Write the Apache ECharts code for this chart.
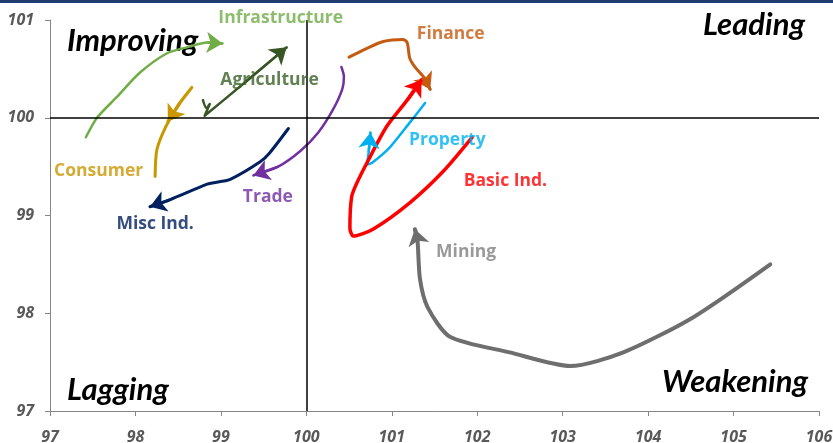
<!DOCTYPE html>
<html>
<head>
<meta charset="utf-8">
<script src="https://cdn.jsdelivr.net/npm/echarts@6/dist/echarts.min.js"></script>
<style>
  html, body { margin: 0; padding: 0; background: #fff; }
  #chart { width: 833px; height: 443px; }
</style>
</head>
<body>
<div id="chart"></div>
<script>
// sector trails: [relative strength, momentum], last point is the latest
const infrastructure = [[97.42, 99.80], [97.55, 100.0], [97.78, 100.21], [98.05, 100.46], [98.37, 100.66], [98.60, 100.72], [98.84, 100.77], [99.02, 100.76]]
const agriculture = [[98.79, 100.18], [98.83, 100.10], [98.87, 100.14], [98.81, 100.02], [99.28, 100.36], [99.77, 100.72]]
const consumer = [[98.23, 99.40], [98.25, 99.67], [98.35, 99.90], [98.50, 100.13], [98.66, 100.31], [98.52, 100.15], [98.38, 99.96]]
const miscInd = [[99.79, 99.89], [99.57, 99.64], [99.46, 99.55], [99.11, 99.37], [98.95, 99.34], [98.84, 99.32], [98.40, 99.16], [98.17, 99.09]]
const trade = [[100.41, 100.52], [100.44, 100.42], [100.42, 100.29], [100.31, 100.08], [100.14, 99.85], [99.93, 99.66], [99.67, 99.50], [99.38, 99.41]]
const finance = [[100.50, 100.62], [100.71, 100.71], [100.90, 100.78], [101.13, 100.80], [101.18, 100.77], [101.21, 100.61], [101.27, 100.52], [101.37, 100.42], [101.45, 100.29]]
const basicInd = [[101.94, 99.80], [101.60, 99.45], [101.21, 99.13], [100.78, 98.86], [100.55, 98.79], [100.51, 98.87], [100.53, 99.19], [100.59, 99.33], [100.71, 99.54], [100.94, 99.91], [101.18, 100.18], [101.35, 100.39]]
const property = [[101.39, 100.15], [101.21, 99.95], [100.98, 99.70], [100.77, 99.54], [100.71, 99.52], [100.73, 99.65], [100.75, 99.85]]
const mining = [[105.43, 98.50], [104.53, 97.96], [103.71, 97.60], [103.09, 97.46], [102.38, 97.60], [101.68, 97.76], [101.42, 98.06], [101.33, 98.35], [101.30, 98.76], [101.27, 98.86]]

const sectorNames = ['Infrastructure', 'Agriculture', 'Consumer', 'Misc Ind.', 'Trade', 'Finance', 'Property', 'Basic Ind.', 'Mining']
const sectorTrails = [infrastructure, agriculture, consumer, miscInd, trade, finance, property, basicInd, mining]
// where each sector name sits, in chart units
const labelAt = [[99.70, 101.02], [99.57, 100.39], [97.57, 99.46], [98.23, 98.91], [99.55, 99.19], [101.69, 100.86], [101.65, 99.77], [102.33, 99.35], [101.87, 98.63]]

const xTicks = [97, 98, 99, 100, 101, 102, 103, 104, 105, 106]
const yTicks = [97, 98, 99, 100, 101]

const lineColors = ['#70AD47', '#375623', '#C99700', '#002060', '#7030A0', '#C55A11', '#00B0F0', '#FF0000', '#6E6E6E']
const textColors = ['#70AD47', '#3B6128', '#C99700', '#002060', '#7030A0', '#C55A11', '#00B0F0', '#FF0000', '#7F7F7F']
const widths = [2.5, 2.5, 3, 3, 2.5, 3, 2.5, 3.5, 4]

const chart = echarts.init(document.getElementById('chart'))
const font = 'Lato, "Open Sans", sans-serif'
const labelFont = '"Open Sans", Lato, sans-serif'

const series = []
sectorTrails.forEach((trail, i) => {
  series.push({
    type: 'line',
    name: sectorNames[i],
    data: trail,
    smooth: 0.25,
    symbol: 'none',
    clip: false,
    lineStyle: { color: lineColors[i], width: widths[i], cap: 'round', join: 'round' },
    z: 3
  })
  // arrow head on the latest segment
  series.push({
    type: 'lines',
    coordinateSystem: 'cartesian2d',
    symbol: ['none', 'arrow'],
    symbolSize: [13, 16],
    lineStyle: { color: lineColors[i], width: widths[i], opacity: 1 },
    data: [{ coords: [trail[trail.length - 2], trail[trail.length - 1]] }],
    z: 4
  })
})

// sector names
series.push({
  type: 'scatter',
  symbolSize: 0,
  clip: false,
  silent: true,
  data: sectorNames.map((n, i) => ({ name: n, value: labelAt[i], label: { color: textColors[i] } })),
  label: {
    show: true,
    position: 'inside',
    formatter: '{b}',
    fontFamily: labelFont,
    fontWeight: 'bold',
    fontSize: 17.5
  },
  z: 5
})

// crosshair at 100 / 100
series.push({
  type: 'line',
  data: [],
  markLine: {
    silent: true,
    symbol: 'none',
    label: { show: false },
    lineStyle: { color: '#000', width: 1.5, type: 'solid' },
    data: [{ xAxis: 100 }, { yAxis: 100 }]
  },
  z: 2
})

const quadText = (text, pos) => ({
  type: 'text',
  ...pos,
  style: {
    text,
    font: 'italic bold 31px ' + font,
    fill: '#000'
  }
})

const axisText = {
  color: '#595959',
  fontFamily: labelFont,
  fontStyle: 'italic',
  fontWeight: 'bold',
  fontSize: 16
}

chart.setOption({
  animation: false,
  grid: { left: 50, right: 14, top: 20, bottom: 32, containLabel: false, outerBoundsMode: 'none' },
  xAxis: {
    type: 'value',
    min: xTicks[0],
    max: xTicks[xTicks.length - 1],
    interval: 1,
    splitLine: { show: false },
    axisLine: { lineStyle: { color: '#868686' } },
    axisTick: { show: true, length: 5, lineStyle: { color: '#868686' } },
    axisLabel: { margin: 18, ...axisText }
  },
  yAxis: {
    type: 'value',
    min: yTicks[0],
    max: yTicks[yTicks.length - 1],
    interval: 1,
    splitLine: { show: false },
    axisLine: { show: true, lineStyle: { color: '#868686' } },
    axisTick: { show: true, length: 5, lineStyle: { color: '#868686' } },
    axisLabel: { margin: 16, ...axisText }
  },
  graphic: [
    { type: 'rect', left: 0, top: 0, shape: { width: 833, height: 3 }, style: { fill: '#1F3D6E' } },
    quadText('Improving', { left: 67, top: 25 }),
    quadText('Leading', { right: 28, top: 9 }),
    quadText('Lagging', { left: 67, top: 374 }),
    quadText('Weakening', { right: 25, top: 366 })
  ],
  series
})
</script>
</body>
</html>
